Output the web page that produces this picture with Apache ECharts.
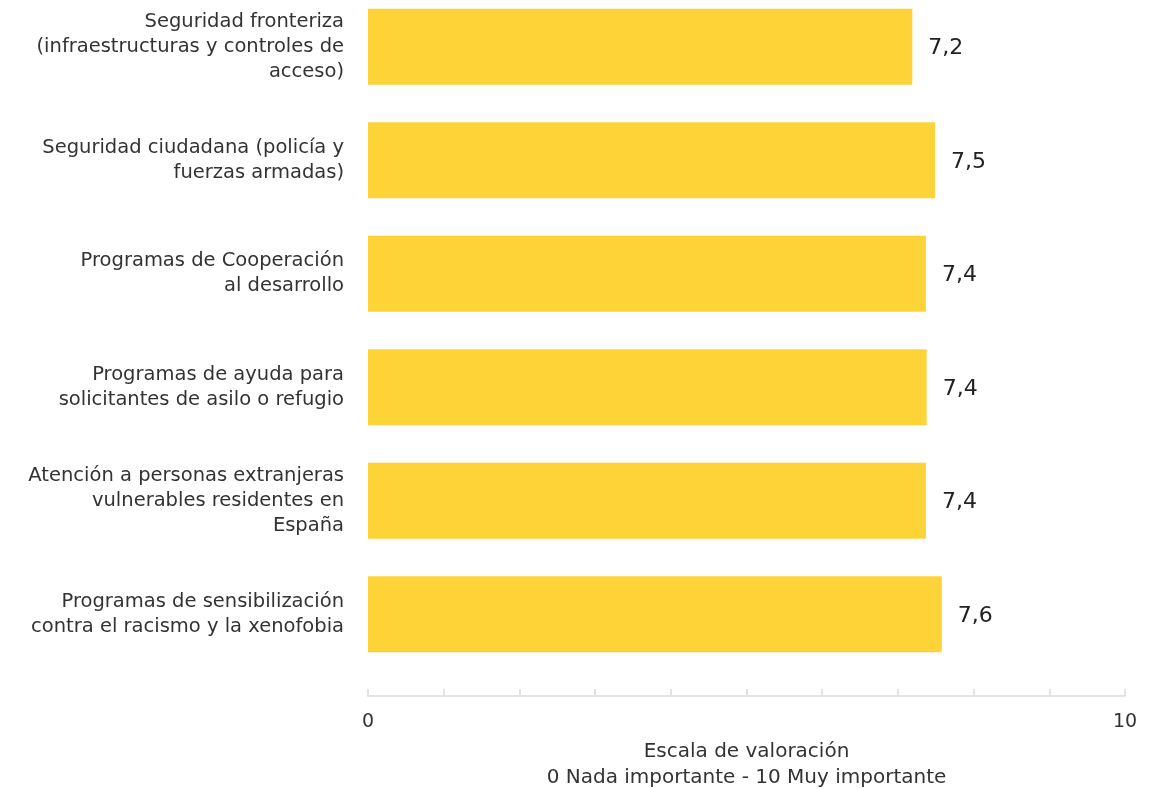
<!DOCTYPE html>
<html><head><meta charset="utf-8">
<script src="https://cdn.jsdelivr.net/npm/echarts@6/dist/echarts.min.js"></script>
<style>html,body{margin:0;padding:0;background:#fff}#c{width:1153px;height:789px}</style>
</head><body><div id="c"></div>
<script>
const categories = [
  "Seguridad fronteriza\n(infraestructuras y controles de\nacceso)",
  "Seguridad ciudadana (policía y\nfuerzas armadas)",
  "Programas de Cooperación\nal desarrollo",
  "Programas de ayuda para\nsolicitantes de asilo o refugio",
  "Atención a personas extranjeras\nvulnerables residentes en\nEspaña",
  "Programas de sensibilización\ncontra el racismo y la xenofobia"
];
const values = [7.19, 7.49, 7.37, 7.38, 7.37, 7.58];
const axisName = "Escala de valoración\n0 Nada importante - 10 Muy importante";
const FONT = "DejaVu Sans";
const chart = echarts.init(document.getElementById('c'), null, {renderer:'canvas'});
chart.setOption({
  animation:false,
  textStyle:{fontFamily:FONT},
  grid:{left:368, right:28, top:-10, bottom:118, containLabel:false, outerBoundsMode:'none'},
  xAxis:{
    type:'value', min:0, max:10, interval:1, offset:25,
    axisLine:{show:true, lineStyle:{color:'#e3e3e3', width:2}},
    axisTick:{show:true, inside:true, length:7, lineStyle:{color:'#e3e3e3', width:2}},
    splitLine:{show:false},
    axisLabel:{fontFamily:FONT, fontSize:19, color:'#333', margin:17,
      formatter:function(v){return (v===0||v===10)?String(v):'';}},
    name:axisName, nameLocation:'middle', nameGap:43,
    nameTextStyle:{fontFamily:FONT, fontSize:20, color:'#333', lineHeight:26}
  },
  yAxis:{
    type:'category', data:categories, inverse:true,
    axisLine:{show:false}, axisTick:{show:false},
    axisLabel:{fontFamily:FONT, fontSize:19.5, color:'#333', margin:24, lineHeight:25, align:'right', padding:[4,0,0,0]}
  },
  series:[{
    type:'bar', data:values, barWidth:76, itemStyle:{color:'#FDD338'},
    label:{show:true, position:'right', distance:16, offset:[0,2], fontFamily:FONT, fontSize:22, color:'#222',
      formatter:function(p){return p.value.toFixed(1).replace('.',',');}}
  }]
});
</script></body></html>
